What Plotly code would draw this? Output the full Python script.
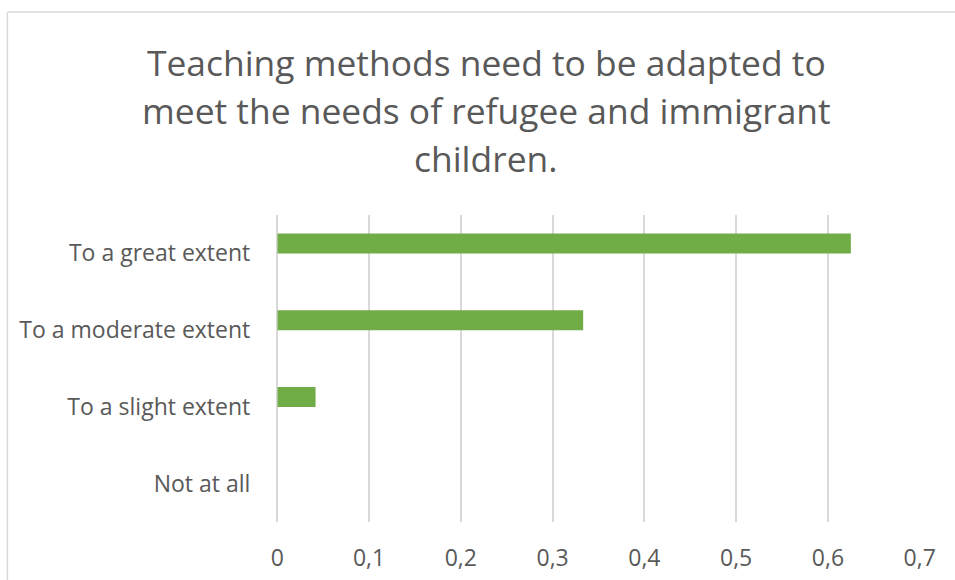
import plotly.graph_objects as go

categories = ["Not at all", "To a slight extent", "To a moderate extent", "To a great extent"]
values = [0.0, 0.0417, 0.3333, 0.625]
x_ticks = [0, 0.1, 0.2, 0.3, 0.4, 0.5, 0.6, 0.7]
x_tick_labels = ["0", "0,1", "0,2", "0,3", "0,4", "0,5", "0,6", "0,7"]
title_lines = ["Teaching methods need to be adapted to",
               "meet the needs of refugee and immigrant",
               "children."]

W, H = 955, 580
# observed mapping of paper fraction -> screen pixel in the rendered page
PAPER_X0, PAPER_W = 5.6, 935.8
FONT = "Open Sans"
GRAY = "#595959"
GRID = "#D9D9D9"

fig = go.Figure()
fig.add_trace(go.Bar(
    x=values, y=categories, orientation="h",
    marker=dict(color="#70AD47", line=dict(width=0)),
    width=0.26, offset=0.0, showlegend=False, hoverinfo="x+y",
))

def px_x(p):
    return (p - PAPER_X0) / PAPER_W

def px_y(p):
    return 1 - p / H

annotations = []
for i, line in enumerate(title_lines):
    annotations.append(dict(
        text=line, x=px_x(487), y=px_y(62 + 48 * i), xref="paper", yref="paper",
        xanchor="center", yanchor="middle", showarrow=False,
        font=dict(family=FONT, size=35.4, color=GRAY),
    ))

border = dict(color=GRID, width=1.5)
fig.update_layout(
    width=W, height=H,
    margin=dict(l=0, r=0, t=0, b=0, pad=0),
    paper_bgcolor="white", plot_bgcolor="white",
    annotations=annotations,
    shapes=[
        dict(type="line", xref="paper", yref="paper",
             x0=px_x(6), x1=1.05, y0=px_y(12), y1=px_y(12), line=border, layer="below"),
        dict(type="line", xref="paper", yref="paper",
             x0=px_x(6), x1=px_x(6), y0=-0.02, y1=px_y(12), line=border, layer="below"),
    ],
    xaxis=dict(
        domain=[px_x(277), px_x(922)], range=[0, 0.7], autorange=False,
        tickvals=x_ticks, ticktext=x_tick_labels,
        showgrid=True, gridcolor=GRID, gridwidth=1.5,
        zeroline=True, zerolinecolor=GRID, zerolinewidth=1.5,
        showline=False, ticks="", ticklabelstandoff=20,
        tickfont=dict(family=FONT, size=23, color=GRAY),
        fixedrange=True,
    ),
    yaxis=dict(
        domain=[px_y(522), px_y(215)],
        categoryorder="array", categoryarray=categories,
        range=[-0.5, 3.5], autorange=False,
        showgrid=False, zeroline=False, showline=False, ticks="",
        ticklabelstandoff=26,
        tickfont=dict(family=FONT, size=23, color=GRAY),
        fixedrange=True,
    ),
)

fig.write_html("out.html", config={"displayModeBar": False})
